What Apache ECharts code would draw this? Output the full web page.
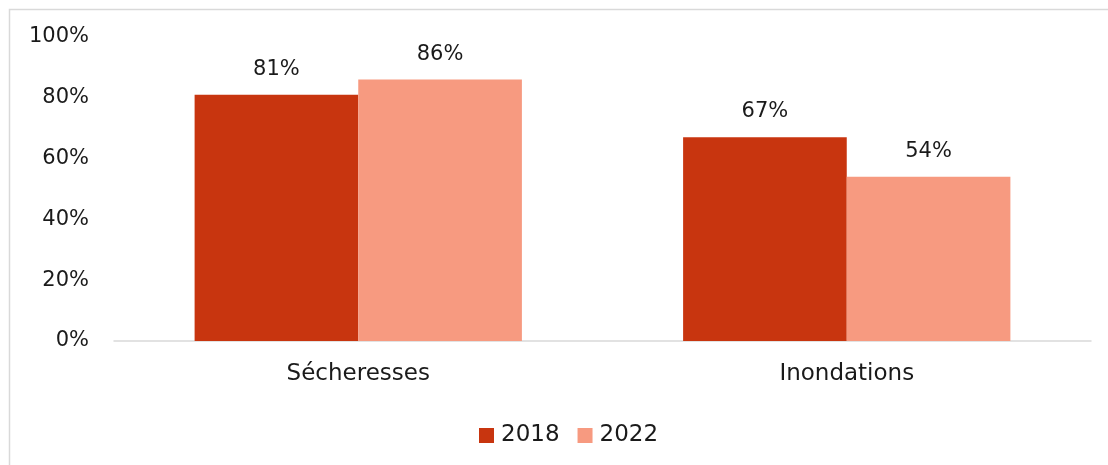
<!DOCTYPE html>
<html><head><meta charset="utf-8">
<script src="https://cdn.jsdelivr.net/npm/echarts@6/dist/echarts.min.js"></script>
<style>html,body{margin:0;padding:0;background:#fff}#c{width:1108px;height:465px}</style>
</head><body><div id="c"></div>
<script>
const categories = ["Sécheresses", "Inondations"];
const series2018 = [81, 67];
const series2022 = [86, 54];
const seriesNames = ["2018", "2022"];
const yTicks = [0, 20, 40, 60, 80, 100];

const font = "'DejaVu Sans', sans-serif";
const chart = echarts.init(document.getElementById('c'));
chart.setOption({
  animation: false,
  textStyle: { fontFamily: font },
  graphic: [{ type: 'rect', left: 7, top: 7, shape: { width: 1120, height: 480 },
    style: { fill: 'none', stroke: '#D9D9D9', lineWidth: 1.5 }, silent: true }],
  grid: { left: 114, right: 17, top: 37, bottom: 124, containLabel: false },
  legend: { top: 419, left: 474, padding: 5, itemWidth: 15, itemHeight: 15, itemGap: 18,
    icon: 'rect', textStyle: { fontSize: 23, color: '#1a1a1a', fontFamily: font, padding: [0,0,0,2] },
    data: seriesNames },
  xAxis: { type: 'category', data: categories,
    axisLine: { lineStyle: { color: '#D9D9D9', width: 1.5 } }, axisTick: { show: false },
    axisLabel: { fontSize: 23, color: '#1a1a1a', margin: 22, fontFamily: font } },
  yAxis: { type: 'value', min: 0, max: 100, interval: 20,
    axisLine: { show: false }, axisTick: { show: false }, splitLine: { show: false },
    axisLabel: { fontSize: 21, color: '#1a1a1a', margin: 25, fontFamily: font,
      formatter: v => yTicks.includes(v) ? v + '%' : '' } },
  series: [
    { name: seriesNames[0], type: 'bar', data: series2018, barGap: '0%', barCategoryGap: '33%',
      itemStyle: { color: '#C8350F' },
      label: { show: true, position: 'top', distance: 15, fontSize: 21, color: '#1a1a1a', formatter: '{c}%', fontFamily: font } },
    { name: seriesNames[1], type: 'bar', data: series2022, barGap: '0%', barCategoryGap: '33%',
      itemStyle: { color: '#F79A80' },
      label: { show: true, position: 'top', distance: 15, fontSize: 21, color: '#1a1a1a', formatter: '{c}%', fontFamily: font } }
  ]
});
</script></body></html>
